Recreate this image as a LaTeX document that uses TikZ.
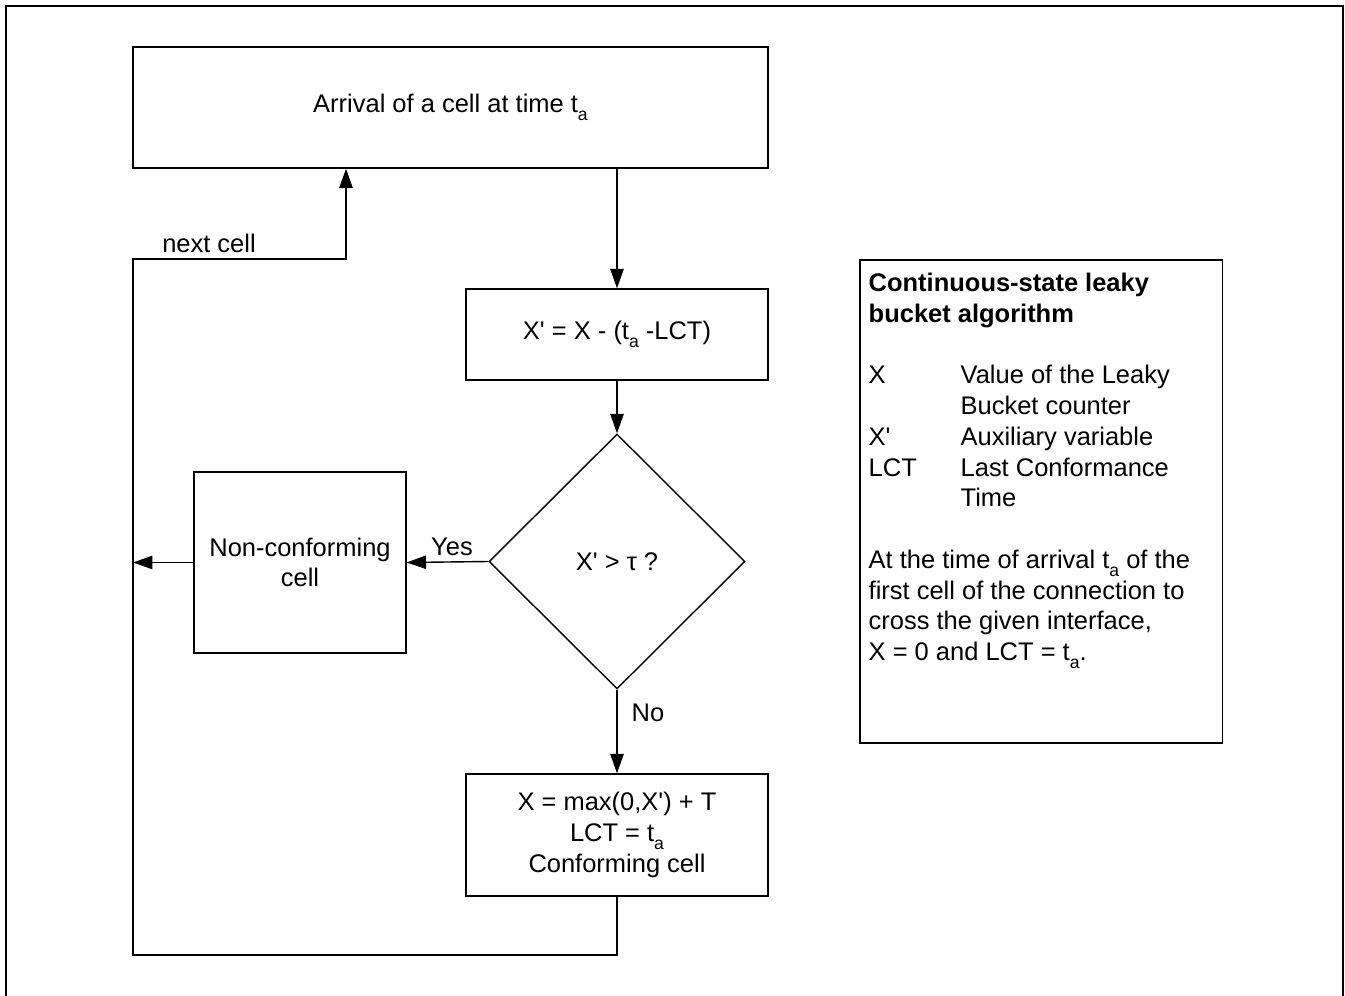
\documentclass[tikz,border=0pt]{standalone}
\usepackage{fontspec}
\setmainfont{Liberation Sans}
\usetikzlibrary{shapes.geometric, arrows.meta}

% t with the low subscript a, and a straight prime
\newcommand{\tsa}{t\raisebox{-0.6ex}{\fontsize{10}{10}\selectfont a}}
\newcommand{\pq}{\textquotesingle}

\begin{document}
\begin{tikzpicture}[x=0.02cm, y=-0.02cm, line width=0.8pt,
      >={Triangle[length=11pt,width=7.6pt]},
      every node/.style={font=\fontsize{14.5}{17.5}\selectfont},
      box/.style={draw, rectangle, inner sep=0pt, align=center},
      test/.style={draw, diamond, inner sep=0pt},
      arr/.style={->}]
    \useasboundingbox (0,0) rectangle (1345,996);
    % outer frame (open at the bottom)
    \draw[line width=0.6pt] (6,996) -- (6,6) -- (1343,6) -- (1343,996);

    % flow chart
    \node[box, minimum width=12.7cm, minimum height=2.42cm] (arrive) at (450.5,107.5)
          {Arrival of a cell at time \tsa};
    \node[box, minimum width=6.04cm, minimum height=1.82cm] (update) at (617,334.5)
          {X\pq{} = X - (\tsa{} -LCT)};
    \node[test, minimum width=5.12cm, minimum height=5.1cm] (check) at (617,561.5)
          {X\pq{} > τ ?};
    \node[box, minimum width=6.04cm, minimum height=2.44cm] (conform) at (617,835)
          {X = max(0,X\pq) + T\\ LCT = \tsa\\ Conforming cell};
    \node[box, minimum width=4.24cm, minimum height=3.62cm] (nonconf) at (300,562.5)
          {Non-conforming\\ cell};

    % return path
    \coordinate (lowL) at (133,955);
    \coordinate (topL) at (133,259);
    \coordinate (back) at (346,259);

    \draw[arr] (update.north |- arrive.south) -- (update.north);
    \draw[arr] (update) -- (check);
    \draw[arr] (check) -- (conform);
    \draw[arr] (check.west) -- (nonconf.east);
    \draw[arr] (nonconf.west) -- (nonconf.west -| lowL);
    \draw[arr] (conform.south) |- (lowL) -- (topL) -- (back) -- (back |- arrive.south);

    \node (yes) at (452,547) {Yes};
    \node (no) at (648,713) {No};
    \node (next) at (209,243) {next cell};

    % legend
    \node[box, minimum width=7.25cm, minimum height=9.66cm] (legend) at (1041.3,501.5) {};
    \node[anchor=north west, inner sep=0pt] (legtext) at (868,269.4) {%
      \begin{tabular}{@{}p{1.84cm}@{}l@{}}
        \multicolumn{2}{@{}l@{}}{\bfseries Continuous-state leaky}\\
        \multicolumn{2}{@{}l@{}}{\bfseries bucket algorithm}\\
        & \\
        X & Value of the Leaky\\
          & Bucket counter\\
        X\pq & Auxiliary variable\\
        LCT & Last Conformance\\
          & Time\\
        & \\
        \multicolumn{2}{@{}l@{}}{At the time of arrival \tsa{} of the}\\
        \multicolumn{2}{@{}l@{}}{first cell of the connection to}\\
        \multicolumn{2}{@{}l@{}}{cross the given interface,}\\
        \multicolumn{2}{@{}l@{}}{X = 0 and LCT = \tsa.}
      \end{tabular}};
  \end{tikzpicture}
\end{document}
